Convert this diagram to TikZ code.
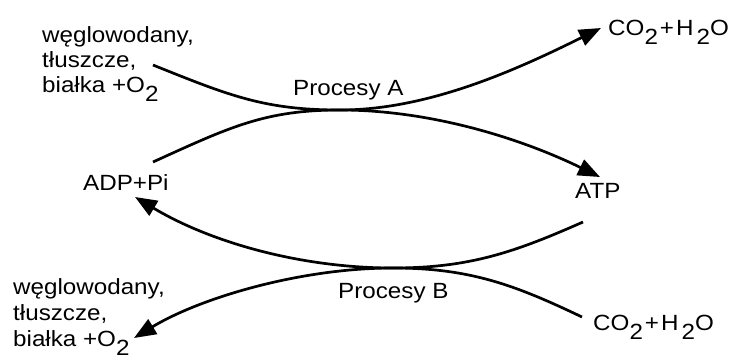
\documentclass[tikz,border=0pt]{standalone}
\usepackage{fontspec}
\setmainfont{Liberation Sans}[FakeStretch=1.1]
\usetikzlibrary{arrows.meta}
\newcommand\subtwo{\raisebox{-0.45em}{2}}
\begin{document}
\begin{tikzpicture}[x=1pt,y=-1pt,
  lbl/.style={inner sep=0pt,font=\fontsize{22}{25}\selectfont},
  flow/.style={line width=2.7pt,black},
  tip/.style={-{Triangle[length=22pt,width=17pt]}}]
\useasboundingbox (0,0) rectangle (739,364);
% texts
\node[lbl,anchor=base west,align=left] (tl) at (42,92)
  {węglowodany,\\tłuszcze,\\białka +O\subtwo};
\node[lbl,anchor=base west] (tr) at (608,35) {CO\subtwo\kern2pt+\kern2pt H\kern3pt\subtwo O};
\node[lbl,anchor=base west] (pa) at (293,95) {Procesy A};
\node[lbl,anchor=base west] (adp) at (83,190) {ADP+Pi};
\node[lbl,anchor=base west] (atp) at (575,198) {ATP};
\node[lbl,anchor=base west] (pb) at (338,298) {Procesy B};
\node[lbl,anchor=base west,align=left,font=\fontsize{22}{26}\selectfont] (bl) at (13,346)
  {węglowodany,\\tłuszcze,\\białka +O\subtwo};
\node[lbl,anchor=base west] (br) at (593,330) {CO\subtwo\kern2pt+\kern2pt H\kern3pt\subtwo O};
% connector ends
\coordinate (s1) at (153,65);
\coordinate (s2) at (153,162);
\coordinate (mA) at (340,110);
\coordinate (e1) at (601,28);
\coordinate (e2) at (600,177);
\coordinate (s3) at (583,222);
\coordinate (s4) at (582,317);
\coordinate (mB) at (393,268);
\coordinate (e3) at (135,197);
\coordinate (e4) at (134,338);
% processes A
\draw[flow,tip] (s1) .. controls (230,96) and (265,110) .. (mA)
  .. controls (430,110) and (520,68) .. (e1);
\draw[flow,tip] (s2) .. controls (230,127) and (265,110) .. (mA)
  .. controls (430,110) and (520,138) .. (e2);
% processes B
\draw[flow,tip] (s3) .. controls (515,252) and (470,268) .. (mB)
  .. controls (300,268) and (210,242) .. (e3);
\draw[flow,tip] (s4) .. controls (515,285) and (470,268) .. (mB)
  .. controls (300,268) and (200,298) .. (e4);
\end{tikzpicture}
\end{document}
